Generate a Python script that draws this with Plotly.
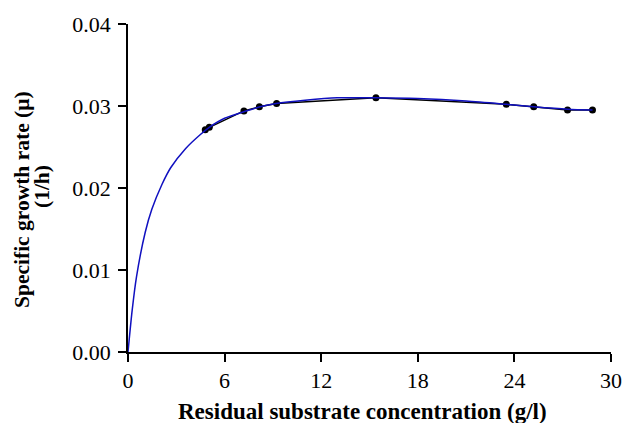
import plotly.graph_objects as go

# Measured specific growth rate vs residual substrate concentration
substrate = [4.8, 5.05, 7.2, 8.16, 9.23, 15.4, 23.5, 25.2, 27.3, 28.85]
growth_rate = [0.0271, 0.0274, 0.0294, 0.0299, 0.0303, 0.0310, 0.0302, 0.0299, 0.0295, 0.0295]

# Fitted kinetic model curve
model_s = [0, 0.26, 0.53, 1.07, 1.48, 2.1, 2.66, 3.57, 4.48, 5.05, 6.0,
           7.2, 8.2, 9.2, 11.0, 13.0, 15.4, 18.0, 21.0, 23.5, 25.2, 27.3, 28.85]
model_mu = [0, 0.0051, 0.0092, 0.0146, 0.0174, 0.0204, 0.0225, 0.0248, 0.0265, 0.0274, 0.0285,
            0.0293, 0.0299, 0.0303, 0.0307, 0.0310, 0.0310, 0.0309, 0.0306, 0.0302,
            0.0299, 0.0296, 0.0295]

x_ticks = [0, 6, 12, 18, 24, 30]
y_ticks = [0.00, 0.01, 0.02, 0.03, 0.04]

fig = go.Figure()
fig.add_trace(go.Scatter(
    x=substrate, y=growth_rate, mode="lines+markers",
    line=dict(color="black", width=1.5),
    marker=dict(color="black", size=7),
    showlegend=False,
))
fig.add_trace(go.Scatter(
    x=model_s, y=model_mu, mode="lines",
    line=dict(color="#1010c0", width=1.5, shape="spline", smoothing=0.8),
    showlegend=False,
))

font_family = "Liberation Serif"
axis_style = dict(
    showgrid=False, zeroline=False, showline=True, linecolor="black", linewidth=1.5,
    ticks="outside", ticklen=8, tickwidth=1.5, tickcolor="black",
    tickfont=dict(size=22),
)
fig.update_layout(
    width=634, height=423,
    margin=dict(l=128, r=13, t=24, b=71),
    paper_bgcolor="white", plot_bgcolor="white",
    font=dict(family=font_family, size=22, color="black"),
    xaxis=dict(range=[0, 30], tickvals=x_ticks, ticktext=[str(v) for v in x_ticks],
               **axis_style),
    yaxis=dict(range=[0, 0.04], tickvals=y_ticks, ticktext=[f"{v:.2f}" for v in y_ticks],
               ticklabelstandoff=3, **axis_style),
    annotations=[
        dict(text="<b>Residual substrate concentration (g/l)</b>", xref="paper", yref="paper",
             x=0.5, y=0, xshift=-7, yshift=-59, xanchor="center", yanchor="middle",
             showarrow=False, font=dict(size=23)),
        dict(text="<b>Specific growth rate (μ)</b>", xref="paper", yref="paper",
             x=0, y=0.4634, xshift=-106, xanchor="center", yanchor="middle",
             textangle=-90, showarrow=False, font=dict(size=21.5)),
        dict(text="<b>(1/h)</b>", xref="paper", yref="paper",
             x=0, y=0.503, xshift=-86, xanchor="center", yanchor="middle",
             textangle=-90, showarrow=False, font=dict(size=21.5)),
    ],
)

fig.write_html("out.html")
